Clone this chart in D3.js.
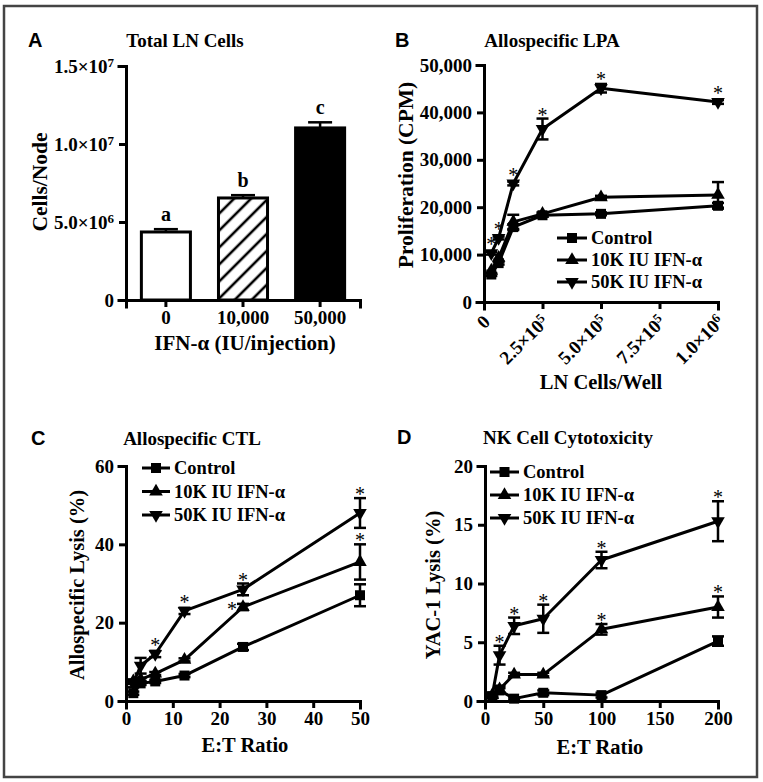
<!DOCTYPE html>
<html><head><meta charset="utf-8">
<script src="https://cdn.jsdelivr.net/npm/d3@7"></script>
<style>
body{margin:0;background:#fff}
svg text{font-family:"Liberation Serif","Times New Roman",serif;font-weight:bold;fill:#000}
</style>
</head><body>
<svg id="chart" width="763" height="782"></svg>
<script>
// ---------- DATA ----------
const seriesNames = ["Control", "10K IU IFN-α", "50K IU IFN-α"];

// Panel A
const aCategories = ["0", "10,000", "50,000"];
const aValues = [4.36e6, 6.54e6, 11.03e6];
const aErrors = [0.18e6, 0.18e6, 0.36e6];
const aLetters = ["a", "b", "c"];
const aYTicks = [0, 5e6, 1e7, 1.5e7];
const aYTickLabels = [["0", ""], ["5.0×10", "6"], ["1.0×10", "7"], ["1.5×10", "7"]];

// Panel B
const bX = [31250, 62500, 125000, 250000, 500000, 1000000];
const bControl = [5800, 8200, 15800, 18300, 18600, 20300];
const b10K = [6600, 9300, 16900, 18600, 22100, 22600];
const b50K = [10300, 13500, 25000, 36500, 45100, 42200];
const bControlErr = [300, 300, 600, 300, 300, 600];
const b10KErr = [0, 0, 1500, 300, 300, 2700];
const b50KErr = [300, 300, 400, 2200, 900, 400];
const bStarsControl = [0, 0, 0, 0, 0, 0];
const bStars10K = [0, 0, 0, 0, 0, 0];
const bStars50K = [1, 1, 1, 1, 1, 1];
const bXTicks = [0, 250000, 500000, 750000, 1000000];
const bXTickLabels = [["0", ""], ["2.5×10", "5"], ["5.0×10", "5"], ["7.5×10", "5"], ["1.0×10", "6"]];
const bYTicks = [0, 10000, 20000, 30000, 40000, 50000];

// Panel C
const cX = [1.5625, 3.125, 6.25, 12.5, 25, 50];
const cControl = [2.0, 4.5, 5.0, 6.5, 13.8, 27.0];
const c10K = [5.0, 5.5, 7.0, 10.5, 24.0, 35.5];
const c50K = [4.5, 9.0, 12.0, 23.0, 28.5, 48.0];
const cControlErr = [0.4, 0.4, 0.4, 0.4, 0.8, 2.8];
const c10KErr = [0.4, 0.4, 0.4, 0.4, 0.8, 4.5];
const c50KErr = [1.0, 2.0, 0.8, 0.8, 1.5, 3.8];
const cStarsControl = [0, 0, 0, 0, 0, 0];
const cStars10K = [0, 0, 0, 0, 1, 1];
const cStars50K = [0, 0, 1, 1, 1, 1];
const cXTicks = [0, 10, 20, 30, 40, 50];
const cYTicks = [0, 20, 40, 60];

// Panel D
const dX = [6.25, 12.5, 25, 50, 100, 200];
const dControl = [0.4, 0.9, 0.2, 0.7, 0.5, 5.1];
const d10K = [0.5, 1.0, 2.25, 2.25, 6.1, 8.0];
const d50K = [0.5, 3.9, 6.4, 7.0, 12.0, 15.3];
const dControlErr = [0.15, 0.2, 0.1, 0.2, 0.2, 0.4];
const d10KErr = [0.15, 0.3, 0.15, 0.15, 0.45, 0.9];
const d50KErr = [0.15, 0.8, 0.7, 1.2, 0.7, 1.7];
const dStarsControl = [0, 0, 0, 0, 0, 0];
const dStars10K = [0, 0, 0, 0, 1, 1];
const dStars50K = [0, 1, 1, 1, 1, 1];
const dXTicks = [0, 50, 100, 150, 200];
const dYTicks = [0, 5, 10, 15, 20];

// ---------- DRAWING ----------
const svg = d3.select("#chart");
svg.append("rect").attr("x", 4).attr("y", 6).attr("width", 753).attr("height", 771)
  .attr("fill", "#fff").attr("stroke", "#444").attr("stroke-width", 2.5);

const FS = 19;      // tick labels / titles
const LFS = 20.5;   // axis titles
const SW = 3;

function styleAxis(g) {
  g.selectAll("path.domain").attr("stroke", "#000").attr("stroke-width", SW).attr("stroke-linecap", "square");
  g.selectAll(".tick line").attr("stroke", "#000").attr("stroke-width", SW);
  g.selectAll(".tick text").attr("font-size", FS).style("font-family", "Liberation Serif").style("font-weight", "bold");
}

function supLabels(sel, labels) {
  sel.selectAll(".tick text").each(function(d, i) {
    const t = d3.select(this);
    t.text(null);
    t.append("tspan").text(labels[i][0]);
    if (labels[i][1]) t.append("tspan").attr("dy", "-0.45em").attr("font-size", 13).text(labels[i][1]);
  });
}

function textAt(x, y, str, opts = {}) {
  const t = svg.append("text").attr("x", x).attr("y", y).text(str)
    .attr("font-size", opts.size || FS).attr("text-anchor", opts.anchor || "middle");
  if (opts.sans) t.style("font-family", "Liberation Sans, Arial, sans-serif");
  if (opts.rotate) t.attr("transform", `rotate(${opts.rotate},${x},${y})`);
  if (opts.dy) t.attr("dy", opts.dy);
  return t;
}

const symbolPaths = [
  d3.symbol().type(d3.symbolSquare).size(100)(),
  d3.symbol().type(d3.symbolTriangle).size(80)(),
  d3.symbol().type(d3.symbolTriangle).size(80)()
];
const symbolRot = [0, 0, 180];

function marker(g, i, x, y) {
  g.append("path").attr("d", symbolPaths[i])
    .attr("transform", `translate(${x},${y}) rotate(${symbolRot[i]})`).attr("fill", "#000");
}

// ----- Panel A -----
{
  const x = d3.scaleBand().domain(aCategories).range([126, 360]).paddingInner(0.325).paddingOuter(0.18);
  const y = d3.scaleLinear().domain([0, 1.5e7]).range([300, 66]);
  const defs = svg.append("defs");
  const pat = defs.append("pattern").attr("id", "hatch").attr("patternUnits", "userSpaceOnUse")
    .attr("width", 12).attr("height", 12).attr("patternTransform", "rotate(45)");
  pat.append("rect").attr("width", 12).attr("height", 12).attr("fill", "#fff");
  pat.append("line").attr("x1", 6).attr("y1", 0).attr("x2", 6).attr("y2", 12).attr("stroke", "#000").attr("stroke-width", 2.6);
  const fills = ["#fff", "url(#hatch)", "#000"];
  const g = svg.append("g");
  aCategories.forEach((c, i) => {
    const cx = x(c) + x.bandwidth() / 2;
    const top = y(aValues[i] + aErrors[i]);
    g.append("line").attr("x1", cx).attr("x2", cx).attr("y1", y(aValues[i])).attr("y2", top).attr("stroke", "#000").attr("stroke-width", 2.5);
    g.append("line").attr("x1", cx - 12).attr("x2", cx + 12).attr("y1", top).attr("y2", top).attr("stroke", "#000").attr("stroke-width", 2.5);
    textAt(cx, top - 8, aLetters[i], { size: 20 });
  });
  g.selectAll("rect.bar").data(aCategories).enter().append("rect")
    .attr("x", d => x(d) + 1.5).attr("width", x.bandwidth() - 3)
    .attr("y", (d, i) => y(aValues[i])).attr("height", (d, i) => y(0) - y(aValues[i]))
    .attr("fill", (d, i) => fills[i]).attr("stroke", "#000").attr("stroke-width", SW);
  const ya = svg.append("g").attr("transform", "translate(126,0)")
    .call(d3.axisLeft(y).tickValues(aYTicks).tickSizeOuter(0).tickSize(7).tickPadding(5));
  styleAxis(ya); supLabels(ya, aYTickLabels);
  const xa = svg.append("g").attr("transform", "translate(0,300)")
    .call(d3.axisBottom(x).tickSizeOuter(0).tickSize(7).tickPadding(4));
  styleAxis(xa);
  textAt(39, 182, "Cells/Node", { rotate: -90, dy: "0.35em", size: LFS + 1 });
  textAt(245, 350, "IFN-α (IU/injection)", { size: LFS + 0.5 });
  textAt(185, 47, "Total LN Cells");
  textAt(28, 47, "A", { sans: true, anchor: "start", size: 20 });
}

function linePanel(cfg) {
  const { x, y, xs, series, errs, stars } = cfg;
  const shifts = cfg.starShift || [];
  const g = svg.append("g");
  const line = d3.line().x((d, i) => x(xs[i])).y(d => y(d));
  series.forEach((vals, s) => {
    g.append("path").attr("d", line(vals)).attr("fill", "none").attr("stroke", "#000")
      .attr("stroke-width", SW).attr("stroke-linejoin", "round");
    vals.forEach((v, i) => {
      const e = errs[s][i];
      if (e > 0) {
        const cx = x(xs[i]);
        const t = y(v + e), b = y(Math.max(0, v - e));
        g.append("line").attr("x1", cx).attr("x2", cx).attr("y1", t).attr("y2", b).attr("stroke", "#000").attr("stroke-width", 2.5);
        [t, b].forEach(yy => g.append("line").attr("x1", cx - 6).attr("x2", cx + 6).attr("y1", yy).attr("y2", yy).attr("stroke", "#000").attr("stroke-width", 2.5));
      }
      marker(g, s, x(xs[i]), y(v));
    });
  });
  series.forEach((vals, s) => {
    vals.forEach((v, i) => {
      if (stars[s][i]) {
        let sx = x(xs[i]);
        let sy = Math.min(y(v + errs[s][i]), y(v) - 5) + 3;
        const sh = shifts.find(o => o.s === s && o.i === i);
        if (sh) { sx = x(xs[i]) - 11; sy = y(v) + 9; }
        g.append("text").attr("x", sx).attr("y", sy).attr("text-anchor", "middle")
          .attr("font-size", 20).style("font-weight", "normal").text("*");
      }
    });
  });
  const L = cfg.legend;
  seriesNames.forEach((n, s) => {
    const yy = L.y + s * L.dy;
    g.append("line").attr("x1", L.x).attr("x2", L.x + L.w).attr("y1", yy).attr("y2", yy).attr("stroke", "#000").attr("stroke-width", SW);
    marker(g, s, L.x + L.w / 2, yy);
    g.append("text").attr("x", L.x + L.w + 4).attr("y", yy).attr("dy", "0.35em").attr("font-size", 18.5).text(n);
  });
}

// ----- Panel B -----
{
  const x = d3.scaleLinear().domain([0, 1e6]).range([484, 718]);
  const y = d3.scaleLinear().domain([0, 50000]).range([302, 65]);
  const ya = svg.append("g").attr("transform", "translate(484,0)")
    .call(d3.axisLeft(y).tickValues(bYTicks).tickFormat(d3.format(",")).tickSizeOuter(0).tickSize(7).tickPadding(5));
  styleAxis(ya);
  const xa = svg.append("g").attr("transform", "translate(0,302)")
    .call(d3.axisBottom(x).tickValues(bXTicks).tickSizeOuter(0).tickSize(7));
  styleAxis(xa); supLabels(xa, bXTickLabels);
  xa.selectAll(".tick text").attr("x", -10).attr("y", 13).attr("dy", "0.35em")
    .attr("transform", "rotate(-45)").style("text-anchor", "end");
  linePanel({ x, y, xs: bX, series: [bControl, b10K, b50K], errs: [bControlErr, b10KErr, b50KErr],
    stars: [bStarsControl, bStars10K, bStars50K], legend: { x: 557, y: 238, dy: 22, w: 30 } });
  textAt(405, 175, "Proliferation (CPM)", { rotate: -90, dy: "0.35em", size: LFS + 1 });
  textAt(601, 389, "LN Cells/Well", { size: LFS });
  textAt(552, 47, "Allospecific LPA");
  textAt(395, 47, "B", { sans: true, anchor: "start", size: 20 });
}

// ----- Panel C -----
{
  const x = d3.scaleLinear().domain([0, 50]).range([126, 360]);
  const y = d3.scaleLinear().domain([0, 60]).range([701, 466]);
  const ya = svg.append("g").attr("transform", "translate(126,0)")
    .call(d3.axisLeft(y).tickValues(cYTicks).tickSizeOuter(0).tickSize(7).tickPadding(5));
  styleAxis(ya);
  const xa = svg.append("g").attr("transform", "translate(0,701)")
    .call(d3.axisBottom(x).tickValues(cXTicks).tickSizeOuter(0).tickSize(7).tickPadding(4));
  styleAxis(xa);
  linePanel({ x, y, xs: cX, series: [cControl, c10K, c50K], errs: [cControlErr, c10KErr, c50KErr],
    stars: [cStarsControl, cStars10K, cStars50K], legend: { x: 142, y: 468, dy: 23.5, w: 28 },
    starShift: [{ s: 1, i: 4 }] });
  textAt(77, 585, "Allospecific Lysis (%)", { rotate: -90, dy: "0.35em", size: LFS });
  textAt(245, 752, "E:T Ratio", { size: LFS });
  textAt(192, 445, "Allospecific CTL");
  textAt(31, 445, "C", { sans: true, anchor: "start", size: 20 });
}

// ----- Panel D -----
{
  const x = d3.scaleLinear().domain([0, 200]).range([485, 718]);
  const y = d3.scaleLinear().domain([0, 20]).range([701, 466]);
  const ya = svg.append("g").attr("transform", "translate(485,0)")
    .call(d3.axisLeft(y).tickValues(dYTicks).tickSizeOuter(0).tickSize(7).tickPadding(5));
  styleAxis(ya);
  const xa = svg.append("g").attr("transform", "translate(0,701)")
    .call(d3.axisBottom(x).tickValues(dXTicks).tickSizeOuter(0).tickSize(7).tickPadding(4));
  styleAxis(xa);
  linePanel({ x, y, xs: dX, series: [dControl, d10K, d50K], errs: [dControlErr, d10KErr, d50KErr],
    stars: [dStarsControl, dStars10K, dStars50K], legend: { x: 490, y: 472, dy: 23, w: 29 } });
  textAt(433, 585, "YAC-1 Lysis (%)", { rotate: -90, dy: "0.35em", size: LFS });
  textAt(600, 754, "E:T Ratio", { size: LFS });
  textAt(568, 444, "NK Cell Cytotoxicity");
  textAt(397, 444, "D", { sans: true, anchor: "start", size: 20 });
}
</script>
</body></html>
